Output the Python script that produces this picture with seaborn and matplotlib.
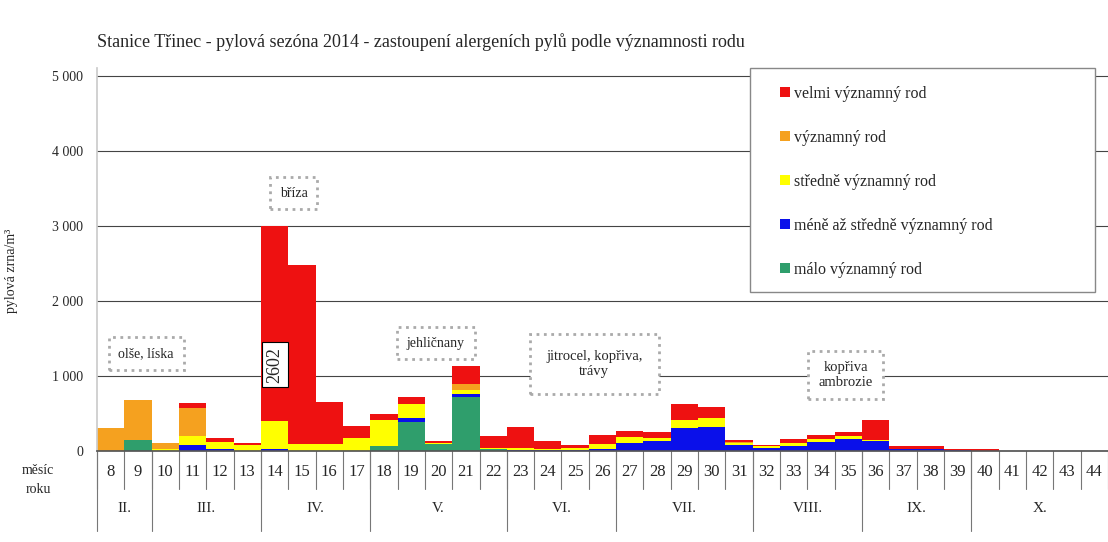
import pandas as pd
import matplotlib.pyplot as plt
import seaborn as sns
from matplotlib.patches import Patch, Rectangle

# data (week of year, pollen grains/m3 per group)
weeks = list(range(8, 45))
velmi = [0, 0, 0, 65, 55, 30, 2602, 2390, 560, 160, 80, 90, 20, 230, 160, 280, 100, 40, 120,
         80, 75, 220, 150, 25, 20, 60, 50, 50, 270, 30, 50, 20, 15, 0, 0, 0, 0]
vyznamny = [310, 530, 80, 370, 0, 0, 0, 0, 0, 0, 0, 0, 0, 80, 0, 0, 0, 0, 0,
            0, 0, 0, 0, 10, 0, 0, 0, 0, 0, 0, 0, 0, 0, 0, 0, 0, 0]
stredne = [0, 0, 30, 120, 90, 80, 370, 90, 90, 170, 340, 190, 20, 60, 20, 30, 20, 30, 60,
           80, 45, 100, 120, 25, 25, 40, 40, 40, 20, 0, 0, 0, 0, 0, 0, 0, 0]
mene = [0, 0, 0, 80, 25, 0, 20, 0, 0, 0, 0, 50, 0, 40, 0, 10, 10, 10, 30,
        110, 130, 310, 320, 80, 40, 60, 120, 160, 130, 30, 20, 10, 5, 0, 0, 0, 0]
malo = [0, 150, 0, 0, 0, 0, 5, 0, 0, 0, 70, 390, 90, 720, 20, 0, 0, 0, 0,
        0, 0, 0, 0, 0, 0, 0, 0, 0, 0, 0, 0, 0, 0, 0, 0, 0, 0]

labels = ["velmi významný rod", "významný rod", "středně významný rod",
          "méně až středně významný rod", "málo významný rod"]
colors = ["#ee1111", "#f5a11f", "#ffff00", "#0a10ea", "#2f9e6c"]

months = ["II.", "III.", "IV.", "V.", "VI.", "VII.", "VIII.", "IX.", "X."]
month_start = [8, 10, 14, 18, 23, 27, 32, 36, 40]
month_end = [9, 13, 17, 22, 26, 31, 35, 39, 44]

title = "Stanice Třinec - pylová sezóna 2014 - zastoupení alergeních pylů podle významnosti rodu"

df = pd.concat([pd.DataFrame({"tyden": weeks, "pyl": v, "rod": lab})
                for v, lab in zip([velmi, vyznamny, stredne, mene, malo], labels)])

sns.set_theme(style="white")
plt.rcParams['font.family'] = ['Liberation Serif', 'DejaVu Serif']

fig = plt.figure(figsize=(11.08, 5.42), dpi=100)
ax = fig.add_axes([0.0875, 0.1679, 0.9125, 0.7066])

sns.histplot(data=df, x="tyden", weights="pyl", hue="rod", hue_order=labels,
             palette=colors, multiple="stack", discrete=True, shrink=1,
             linewidth=0, alpha=1, legend=False, ax=ax)

ax.set_xlim(7.5, 44.5)
ax.set_ylim(0, 5107)
ax.set_yticks(range(0, 5001, 1000))
ax.set_yticklabels([f"{v:,}".replace(",", " ") for v in range(0, 5001, 1000)], fontsize=10)
ax.tick_params(axis='y', length=0, pad=10)
ax.set_xticks([])
ax.set_xlabel("")
ax.set_ylabel("pylová zrna/m³", fontsize=10)
ax.yaxis.set_label_coords(-0.078, 0.47)
ax.grid(axis='y', color='#444444', linewidth=0.8)
ax.set_axisbelow(True)
for s in ['top', 'right']:
    ax.spines[s].set_visible(False)
ax.spines['left'].set_color('#cccccc')
ax.spines['bottom'].set_color('#555555')

# week row + month row under the axis
tr = ax.get_xaxis_transform()
for w in weeks:
    ax.text(w, -0.055, str(w), transform=tr, ha='center', va='center', fontsize=12)
for i in range(len(weeks) + 1):
    b = 7.5 + i
    ax.plot([b, b], [0, -0.10], transform=tr, color='#777777', lw=0.8, clip_on=False)
for m, a, e in zip(months, month_start, month_end):
    ax.plot([a - 0.5, a - 0.5], [0, -0.21], transform=tr, color='#777777', lw=0.8, clip_on=False)
    ax.text((a + e) / 2, -0.15, m, transform=tr, ha='center', va='center', fontsize=11)
fig.text(38 / 1108, 1 - 480 / 542, "měsíc\nroku", ha='center', va='center', fontsize=10,
         linespacing=1.6)

# annotations
box = dict(boxstyle='square,pad=0.7', facecolor='white', edgecolor='#aaaaaa',
           linestyle=':', linewidth=2)
ax.text(14.7, 3440, "bříza", ha='center', va='center', fontsize=10, bbox=box)
ax.text(9.3, 1300, "olše, líska", ha='center', va='center', fontsize=10, bbox=box)
ax.text(19.9, 1440, "jehličnany", ha='center', va='center', fontsize=10, bbox=box)
ax.text(25.7, 1160, "jitrocel, kopřiva,\ntrávy", ha='center', va='center', fontsize=10.5,
        bbox=dict(box, boxstyle='square,pad=1.1'))
ax.text(34.9, 1010, "kopřiva\nambrozie", ha='center', va='center', fontsize=10.5, bbox=box)
ax.text(14, 1150, "2602", rotation=90, ha='center', va='center', fontsize=13,
        bbox=dict(boxstyle='square,pad=0.25', facecolor='white', edgecolor='black', linewidth=0.8))

# legend
ax.add_patch(Rectangle((750 / 1108, 1 - 292 / 542), 345 / 1108, 224 / 542,
                       transform=fig.transFigure, facecolor='white', edgecolor='#888888',
                       linewidth=1, zorder=5, clip_on=False))
handles = [Patch(facecolor=c, edgecolor='none') for c in colors]
leg = ax.legend(handles, labels, loc='upper left', bbox_to_anchor=(780 / 1108, 1 - 86 / 542),
                bbox_transform=fig.transFigure, frameon=False, fontsize=11.5,
                labelspacing=1.75, handlelength=0.6, handleheight=0.6, handletextpad=0.3,
                borderpad=0, borderaxespad=0)
leg.set_zorder(6)

fig.text(0.0875, 1 - 42 / 542, title, ha='left', va='center', fontsize=13)

plt.savefig("out.png", dpi=100)
